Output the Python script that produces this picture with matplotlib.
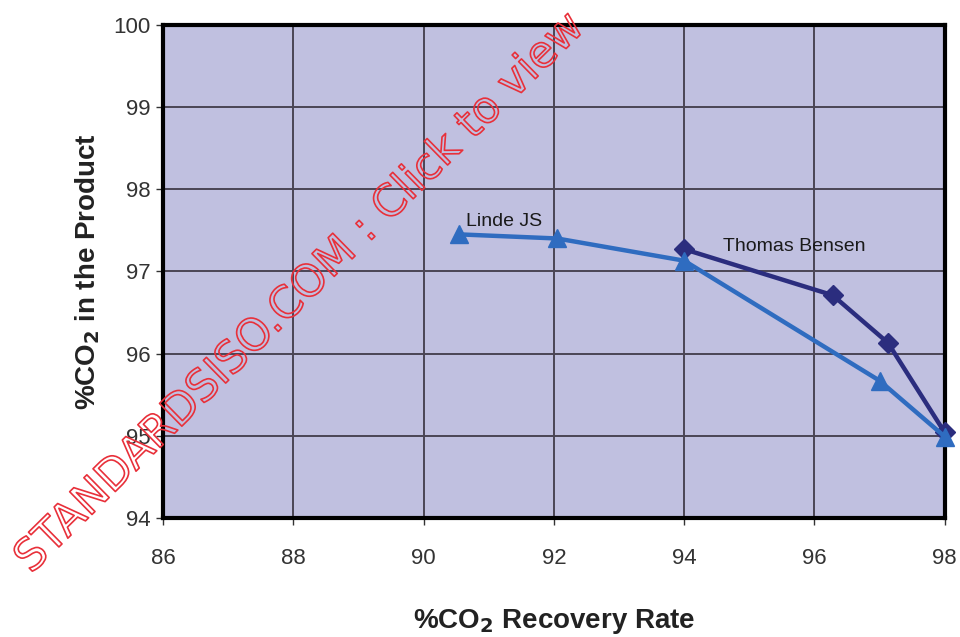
import matplotlib.pyplot as plt
import matplotlib.patheffects as pe

plt.rcParams['font.family'] = ['Liberation Sans', 'DejaVu Sans']

linde_x = [90.55, 92.05, 94.0, 97.0, 98.0]
linde_y = [97.45, 97.4, 97.13, 95.67, 94.99]

bensen_x = [94.0, 96.28, 97.13, 98.0]
bensen_y = [97.27, 96.71, 96.13, 95.04]

xticks = [86, 88, 90, 92, 94, 96, 98]
yticks = [94, 95, 96, 97, 98, 99, 100]

fig = plt.figure(figsize=(9.6, 6.37), dpi=100)
ax = fig.add_axes([0.170, 0.187, 0.814, 0.774])
ax.set_facecolor('#c0c0e0')

ax.plot(bensen_x, bensen_y, color='#2b2d7e', lw=3.2, marker='D', ms=10, clip_on=False, zorder=3)
ax.plot(linde_x, linde_y, color='#2f6cc0', lw=3.2, marker='^', ms=13, clip_on=False, zorder=4)

ax.text(90.65, 97.55, 'Linde JS', fontsize=14, color='#1a1a1a')
ax.text(94.6, 97.25, 'Thomas Bensen', fontsize=14, color='#1a1a1a')

ax.set_xlim(86, 98)
ax.set_ylim(94, 100)
ax.set_xticks(xticks)
ax.set_yticks(yticks)
ax.grid(True, color='#4a4555', lw=1.4)
ax.set_axisbelow(True)
for s in ax.spines.values():
    s.set_linewidth(3)
    s.set_color('black')
ax.tick_params(labelsize=16, colors='#333333', length=5, width=1)
ax.tick_params(axis='x', pad=17)
ax.tick_params(axis='y', pad=4)

ax.set_xlabel('%CO$_\\mathbf{2}$ Recovery Rate', fontsize=20, fontweight='bold', color='#222222', labelpad=27)
ax.set_ylabel('%CO$_\\mathbf{2}$ in the Product', fontsize=20, fontweight='bold', color='#222222', labelpad=8)

# watermark
wm = fig.text(0.312, 0.54, 'STANDARDSISO.COM : Click to view', fontsize=31.5, rotation=44.5,
              ha='center', va='center', color='none', family='DejaVu Sans',
              rotation_mode='anchor')
wm.set_path_effects([pe.withStroke(linewidth=1.2, foreground='#e8303a')])

fig.savefig('out.png', dpi=100)
